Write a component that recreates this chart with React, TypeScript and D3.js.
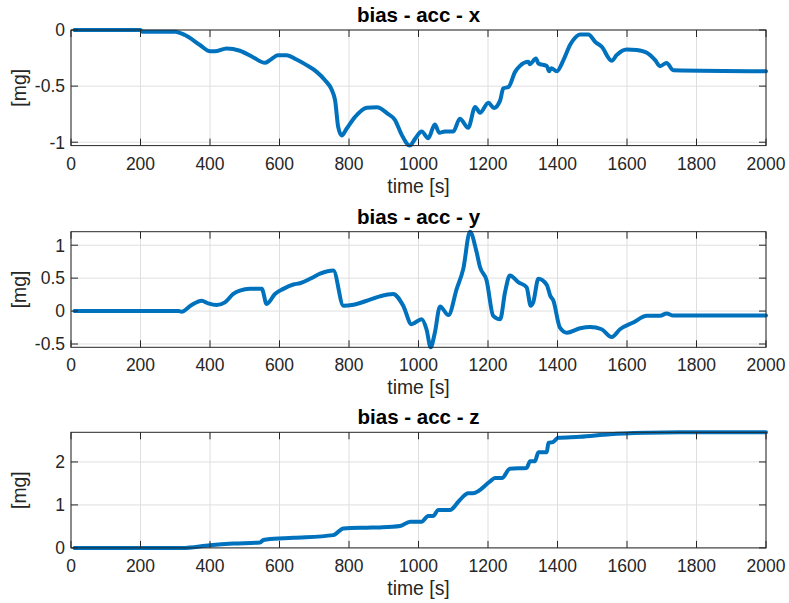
import React from "react";
import * as d3 from "d3";

// Accelerometer bias estimates over time, one panel per axis.
const timeX = [10, 200, 205, 300, 328, 371, 400, 414, 448, 486, 525, 558, 572, 596, 620, 649, 678, 707, 731, 750, 760, 769, 779, 793, 817, 851, 880, 913, 932, 951, 975, 990, 1009, 1028, 1047, 1060, 1076, 1100, 1119, 1143, 1163, 1177, 1201, 1217, 1235, 1244, 1259, 1278, 1292, 1316, 1320, 1338, 1345, 1369, 1376, 1382, 1398, 1417, 1436, 1445, 1465, 1489, 1508, 1527, 1556, 1570, 1599, 1628, 1657, 1681, 1695, 1714, 1733, 2000];
const biasX = [0, 0, -0.015, -0.015, -0.045, -0.134, -0.19, -0.19, -0.164, -0.185, -0.245, -0.292, -0.27, -0.224, -0.224, -0.263, -0.313, -0.373, -0.448, -0.531, -0.627, -0.866, -0.94, -0.88, -0.776, -0.692, -0.688, -0.75, -0.8, -0.93, -1.03, -0.97, -0.904, -0.964, -0.842, -0.916, -0.905, -0.905, -0.79, -0.871, -0.686, -0.737, -0.648, -0.695, -0.627, -0.52, -0.507, -0.373, -0.32, -0.284, -0.305, -0.254, -0.298, -0.32, -0.367, -0.34, -0.367, -0.269, -0.134, -0.09, -0.039, -0.039, -0.104, -0.149, -0.275, -0.224, -0.173, -0.179, -0.203, -0.269, -0.322, -0.293, -0.358, -0.367];

const timeY = [10, 310, 318, 347, 376, 395, 419, 443, 467, 486, 515, 549, 563, 587, 611, 640, 659, 688, 717, 755, 784, 813, 860, 889, 927, 956, 980, 1009, 1023, 1035, 1047, 1062, 1086, 1110, 1129, 1148, 1167, 1177, 1196, 1215, 1235, 1249, 1263, 1287, 1311, 1323, 1330, 1345, 1369, 1379, 1388, 1407, 1427, 1465, 1494, 1527, 1556, 1580, 1618, 1657, 1695, 1714, 1733, 2000];
const biasY = [0, 0, -0.01, 0.092, 0.158, 0.117, 0.092, 0.132, 0.26, 0.311, 0.337, 0.337, 0.107, 0.26, 0.337, 0.403, 0.423, 0.49, 0.567, 0.615, 0.081, 0.097, 0.173, 0.224, 0.26, 0.081, -0.2, -0.123, -0.276, -0.55, -0.328, 0.071, -0.061, 0.337, 0.644, 1.205, 0.899, 0.669, 0.465, -0.072, -0.123, 0.285, 0.541, 0.439, 0.362, 0.081, 0.13, 0.49, 0.399, 0.235, 0.16, -0.251, -0.328, -0.261, -0.241, -0.276, -0.394, -0.276, -0.174, -0.072, -0.072, -0.036, -0.067, -0.067];

const timeZ = [10, 320, 400, 467, 544, 553, 563, 640, 755, 784, 851, 889, 947, 976, 1009, 1028, 1042, 1057, 1091, 1119, 1143, 1157, 1206, 1220, 1240, 1263, 1311, 1321, 1335, 1345, 1369, 1374, 1386, 1402, 1465, 1551, 1657, 1753, 2000];
const biasZ = [0, 0, 0.063, 0.1, 0.126, 0.18, 0.197, 0.234, 0.297, 0.454, 0.47, 0.477, 0.508, 0.61, 0.61, 0.742, 0.742, 0.883, 0.883, 1.117, 1.273, 1.273, 1.546, 1.624, 1.624, 1.843, 1.859, 2.014, 2.014, 2.225, 2.225, 2.444, 2.46, 2.562, 2.585, 2.646, 2.679, 2.69, 2.69];

const titles = ["bias - acc - x", "bias - acc - y", "bias - acc - z"];
const xTicks = [0, 200, 400, 600, 800, 1000, 1200, 1400, 1600, 1800, 2000];
const yTicksX = [-1, -0.5, 0];
const yTicksY = [-0.5, 0, 0.5, 1];
const yTicksZ = [0, 1, 2];
const xLabel = "time [s]";
const yLabel = "[mg]";

const W = 789;
const H = 603;
const left = 71;
const right = 766;
const tops = [30, 231.7, 432.3];
const plotH = 115.6;
const FONT = "'Liberation Sans', Arial, Helvetica, sans-serif";
const INK = "#262626";
const GRID = "#dfdfdf";
const LINE = "#0072BD";
const TICK = 7;
const TICK_FS = 17.5;
const LABEL_FS = 19.4;
const TITLE_FS = 20.5;

type Panel = { t: number[]; v: number[]; ticks: number[]; title: string };

const panels: Panel[] = [
  { t: timeX, v: biasX, ticks: yTicksX, title: titles[0] },
  { t: timeY, v: biasY, ticks: yTicksY, title: titles[1] },
  { t: timeZ, v: biasZ, ticks: yTicksZ, title: titles[2] },
];

function PanelView({ p, top }: { p: Panel; top: number }) {
  const bottom = top + plotH;
  const x = d3.scaleLinear().domain([0, 2000]).range([left, right]);
  const ext = d3.extent(p.v) as [number, number];
  const y = d3.scaleLinear().domain(ext).range([bottom, top]);
  const pts = p.t.map((t, i) => [t, p.v[i]] as [number, number]);
  const path = d3
    .line<[number, number]>()
    .curve(d3.curveMonotoneX)
    .x((d) => x(d[0]))
    .y((d) => y(d[1]))(pts) as string;
  const fmt = (v: number) => String(v);
  const cx = (left + right) / 2;
  return (
    <g>
      {/* grid */}
      {xTicks.map((t) => (
        <line key={"gx" + t} x1={x(t)} x2={x(t)} y1={top} y2={bottom} stroke={GRID} strokeWidth={1} />
      ))}
      {p.ticks.map((v) => (
        <line key={"gy" + v} x1={left} x2={right} y1={y(v)} y2={y(v)} stroke={GRID} strokeWidth={1} />
      ))}
      {/* data */}
      <path d={path} fill="none" stroke={LINE} strokeWidth={4} strokeLinejoin="round" strokeLinecap="round" />
      {/* box */}
      <rect x={left} y={top} width={right - left} height={plotH} fill="none" stroke={INK} strokeWidth={1} />
      {/* ticks on all four sides */}
      {xTicks.map((t) => (
        <g key={"tx" + t}>
          <line x1={x(t)} x2={x(t)} y1={bottom} y2={bottom - TICK} stroke={INK} strokeWidth={1} />
          <line x1={x(t)} x2={x(t)} y1={top} y2={top + TICK} stroke={INK} strokeWidth={1} />
          <text x={x(t)} y={bottom + 24} textAnchor="middle" fontSize={TICK_FS} fill={INK} fontFamily={FONT}>
            {fmt(t)}
          </text>
        </g>
      ))}
      {p.ticks.map((v) => (
        <g key={"ty" + v}>
          <line x1={left} x2={left + TICK} y1={y(v)} y2={y(v)} stroke={INK} strokeWidth={1} />
          <line x1={right} x2={right - TICK} y1={y(v)} y2={y(v)} stroke={INK} strokeWidth={1} />
          <text x={left - 6} y={y(v)} dy="0.36em" textAnchor="end" fontSize={TICK_FS} fill={INK} fontFamily={FONT}>
            {fmt(v)}
          </text>
        </g>
      ))}
      <text x={cx} y={bottom + 47} textAnchor="middle" fontSize={LABEL_FS} fill={INK} fontFamily={FONT}>
        {xLabel}
      </text>
      <text
        transform={`translate(26,${(top + bottom) / 2}) rotate(-90)`}
        textAnchor="middle"
        fontSize={LABEL_FS}
        fill={INK}
        fontFamily={FONT}
      >
        {yLabel}
      </text>
      <text x={cx} y={top - 8} textAnchor="middle" fontSize={TITLE_FS} fontWeight="bold" fill="#000" fontFamily={FONT}>
        {p.title}
      </text>
    </g>
  );
}

export default function App() {
  return (
    <svg
      width={W}
      height={H}
      viewBox={`0 0 ${W} ${H}`}
      style={{ position: "absolute", left: 0, top: 0, background: "#fff" }}
    >
      <rect width={W} height={H} fill="#fff" />
      {panels.map((p, i) => (
        <PanelView key={i} p={p} top={tops[i]} />
      ))}
    </svg>
  );
}
